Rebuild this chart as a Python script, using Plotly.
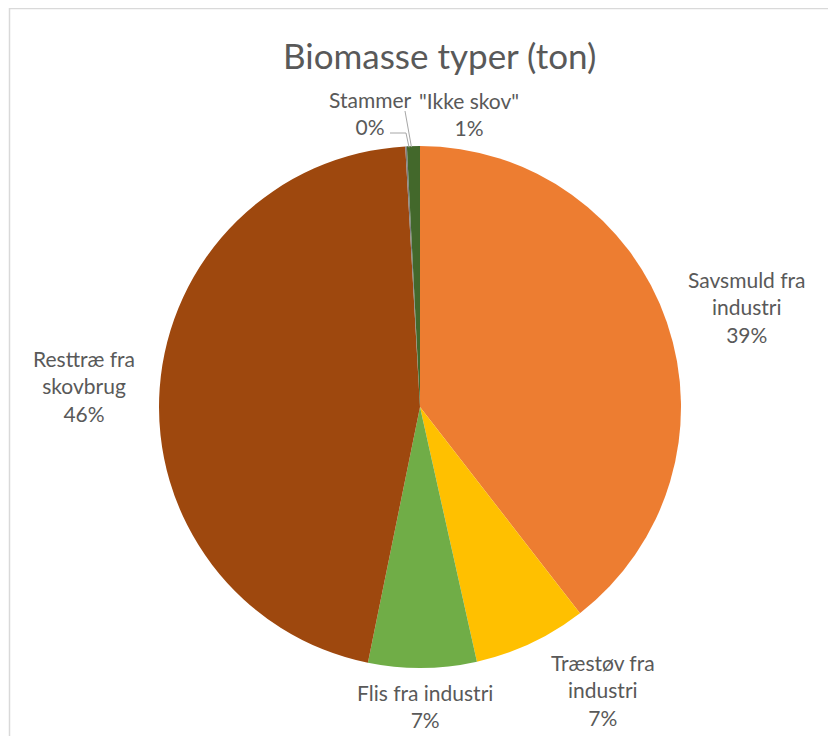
import math
import plotly.graph_objects as go

# ---- data ----
labels = ["Savsmuld fra industri", "Træstøv fra industri", "Flis fra industri",
          "Resttræ fra skovbrug", "Stammer", "\"Ikke skov\""]
label_lines = ["Savsmuld fra<br>industri", "Træstøv fra<br>industri", "Flis fra industri",
               "Resttræ fra<br>skovbrug", "Stammer", "\"Ikke skov\""]
values = [39.5, 7.0, 6.7, 45.9, 0.1, 0.8]
pct_text = ["39%", "7%", "7%", "46%", "0%", "1%"]
colors = ["#ED7D31", "#FFC000", "#70AD47", "#9E480E", "#7F7F7F", "#43682B"]
title = "Biomasse typer (ton)"

# ---- layout geometry (pixels) ----
OFF = 8  # page body margin
W, H = 828, 728
ML, MR, MT, MB = 0, 4, 138, 68
PW, PH = W - ML - MR, H - MT - MB
R = min(PW, PH) / 2
CX, CY = ML + PW / 2 + OFF, MT + PH / 2 + OFF  # screen coords

def px(x, y):
    """screen pixel -> paper coords"""
    return (x - OFF - ML) / PW, (H - MB - (y - OFF)) / PH

total = sum(values)
mids = []
acc = 0
for v in values:
    mids.append((acc + v / 2) / total * 360)
    acc += v

FONT = "Lato, Open Sans, sans-serif"
GRAY = "#595959"
LS = 21

fig = go.Figure(go.Pie(
    labels=labels, values=values, sort=False, direction="clockwise", rotation=0,
    marker=dict(colors=colors, line=dict(width=0)),
    textinfo="none", hoverinfo="label+percent", showlegend=False,
))

annotations = []
rad_f = [1.31, 1.29, 1.146, 1.29]
ang_n = [1.9, -7.7, -0.5, -0.5]
for i in range(4):
    a = math.radians(mids[i] + ang_n[i])
    x = CX + rad_f[i] * R * math.sin(a)
    y = CY - rad_f[i] * R * math.cos(a)
    xp, yp = px(x, y)
    annotations.append(dict(x=xp, y=yp, xref="paper", yref="paper",
                            text=label_lines[i] + "<br>" + pct_text[i],
                            showarrow=False, xanchor="center", yanchor="middle",
                            align="center", font=dict(family=FONT, size=LS, color=GRAY)))

sx, sy = px(CX - 50, CY - 294)
annotations.append(dict(x=sx, y=sy, xref="paper", yref="paper",
                        text=label_lines[4] + "<br>" + pct_text[4], showarrow=False,
                        xanchor="center", yanchor="middle", align="center",
                        font=dict(family=FONT, size=LS, color=GRAY)))
ix, iy = px(CX + 49, CY - 293)
annotations.append(dict(x=ix, y=iy, xref="paper", yref="paper",
                        text=label_lines[5] + "<br>" + pct_text[5], showarrow=False,
                        xanchor="center", yanchor="middle", align="center",
                        font=dict(family=FONT, size=LS, color=GRAY)))

tx, ty = px(439, 55)
annotations.append(dict(x=tx, y=ty, xref="paper", yref="paper", text=title,
                        showarrow=False, xanchor="center", yanchor="middle",
                        font=dict(family=FONT, size=35, color=GRAY)))

shapes = []
def edge_pt(deg):
    a = math.radians(deg)
    return CX + R * math.sin(a), CY - R * math.cos(a)

ex, ey = edge_pt(mids[4])
p0 = px(CX - 30, CY - 274)
p1 = px(CX - 14, CY - 274)
p2 = px(ex + 3, ey + 1)
shapes.append(dict(type="path", xref="paper", yref="paper",
                   path=f"M {p0[0]} {p0[1]} L {p1[0]} {p1[1]} L {p2[0]} {p2[1]}",
                   line=dict(color="#A6A6A6", width=1)))
fx, fy = edge_pt(mids[5])
q0 = px(CX - 15, CY - 296)
q1 = px(fx - 2, fy + 1)
shapes.append(dict(type="line", xref="paper", yref="paper",
                   x0=q0[0], y0=q0[1], x1=q1[0], y1=q1[1],
                   line=dict(color="#A6A6A6", width=1)))
b0 = px(9.5, 8.5)
b1 = px(830.5, 745)
shapes.append(dict(type="rect", xref="paper", yref="paper",
                   x0=b0[0], y0=b1[1], x1=b1[0], y1=b0[1],
                   line=dict(color="#D9D9D9", width=1.5), fillcolor="rgba(0,0,0,0)"))

fig.update_layout(
    width=W, height=H,
    margin=dict(l=ML, r=MR, t=MT, b=MB),
    paper_bgcolor="white", plot_bgcolor="white",
    annotations=annotations, shapes=shapes,
)
fig.write_html("out.html")
